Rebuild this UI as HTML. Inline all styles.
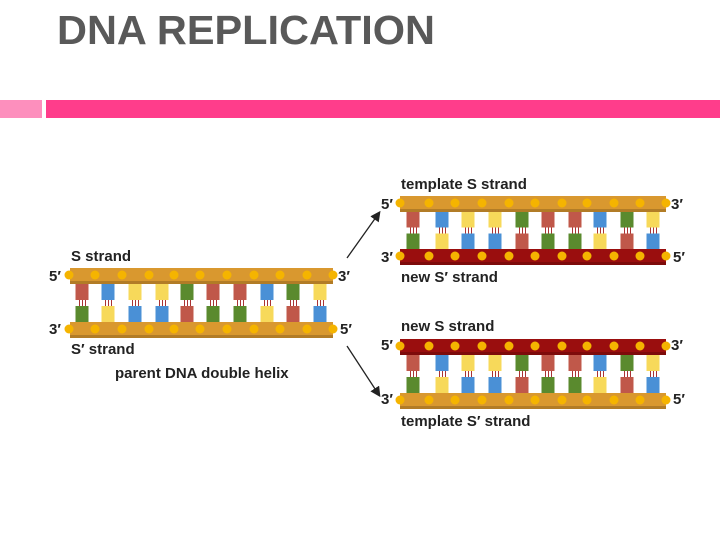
<!DOCTYPE html>
<html><head><meta charset="utf-8"><style>
html,body{margin:0;padding:0;background:#fff;width:720px;height:540px;overflow:hidden}
svg{display:block}
text{font-family:"Liberation Sans",sans-serif;font-weight:bold}
</style></head><body>
<svg id="s" width="720" height="540" viewBox="0 0 720 540" xmlns="http://www.w3.org/2000/svg">
<defs>
<marker id="ah" markerWidth="8" markerHeight="8" refX="6" refY="4" orient="auto"><path d="M0,0 L8,4 L0,8 z" fill="#222"/></marker>
</defs>
<text x="57" y="44" font-size="41" fill="#595959" textLength="378" lengthAdjust="spacingAndGlyphs">DNA REPLICATION</text>
<rect x="0" y="100" width="42" height="18" fill="#fd8fbd"/>
<rect x="46" y="100" width="674" height="18" fill="#ff3d8b"/>
<g id="g"></g>
<g font-size="15" fill="#222">
<text x="71" y="261">S strand</text>
<text x="49" y="281">5′</text><text x="338" y="281">3′</text>
<text x="49" y="334">3′</text><text x="340" y="334">5′</text>
<text x="71" y="354">S′ strand</text>
<text x="115" y="378">parent DNA double helix</text>
<text x="401" y="189">template S strand</text>
<text x="381" y="209">5′</text><text x="671" y="209">3′</text>
<text x="381" y="262">3′</text><text x="673" y="262">5′</text>
<text x="401" y="282">new S′ strand</text>
<text x="401" y="331">new S strand</text>
<text x="381" y="350">5′</text><text x="671" y="350">3′</text>
<text x="381" y="404">3′</text><text x="673" y="404">5′</text>
<text x="401" y="426">template S′ strand</text>
</g>
<line x1="347" y1="258" x2="379" y2="213" stroke="#222" stroke-width="1.3" marker-end="url(#ah)"/>
<line x1="347" y1="346" x2="379" y2="395" stroke="#222" stroke-width="1.3" marker-end="url(#ah)"/>
</svg>
<script>
var C={r:"#c0584a",b:"#4a90d6",y:"#f7d95a",g:"#5a8a2e"};
var top_=["r","b","y","y","g","r","r","b","g","y"];
var comp={r:"g",g:"r",b:"y",y:"b"};
var O="#d9982f",R="#9a0e0e";
var h="";
function helix(x0,x1,ty,by,tc,bc,xs){
 var mid=(ty+16+by)/2;
 for(var i=0;i<10;i++){var x=xs[i];
  h+='<rect x="'+(x-6.5)+'" y="'+(ty+14)+'" width="13" height="'+(mid-ty-17)+'" fill="'+C[top_[i]]+'"/>';
  h+='<rect x="'+(x-6.5)+'" y="'+(mid+3)+'" width="13" height="'+(by-mid-1)+'" fill="'+C[comp[top_[i]]]+'"/>';
  h+='<rect x="'+(x-3)+'" y="'+(mid-3)+'" width="1" height="6" fill="#a33"/><rect x="'+x+'" y="'+(mid-3)+'" width="1" height="6" fill="#a33"/><rect x="'+(x+3)+'" y="'+(mid-3)+'" width="1" height="6" fill="#a33"/>';
 }
 [[ty,tc],[by,bc]].forEach(function(s){
  h+='<rect x="'+x0+'" y="'+s[0]+'" width="'+(x1-x0)+'" height="16" fill="'+s[1]+'"/>';
  h+='<rect x="'+x0+'" y="'+(s[0]+13)+'" width="'+(x1-x0)+'" height="3" fill="rgba(0,0,0,0.18)"/>';
  for(var i=0;i<11;i++){var cx=(i<10?xs[i]-13:xs[9]+13);
   h+='<circle cx="'+cx+'" cy="'+(s[0]+7)+'" r="4.5" fill="#f5b400"/>';}
 });
}
var L=[82,108,135,162,187,213,240,267,293,320];
var Rx=[413,442,468,495,522,548,575,600,627,653];
helix(70,333,268,322,O,O,L);
helix(400,666,196,249,O,R,Rx);
helix(400,666,339,393,R,O,Rx);
document.getElementById("g").innerHTML=h;
</script>
</body></html>
